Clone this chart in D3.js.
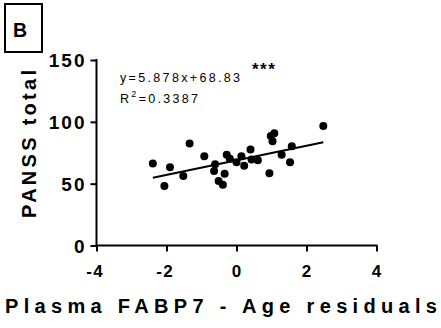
<!DOCTYPE html>
<html>
<head>
<meta charset="utf-8">
<script src="https://cdn.jsdelivr.net/npm/d3@7"></script>
<style>
  body { margin: 0; background: #fff; }
</style>
</head>
<body>
<svg id="chart" width="441" height="328"></svg>
<script>
const residuals = [-2.39, -2.06, -1.9, -1.52, -1.34, -0.92, -0.61, -0.64, -0.51, -0.39, -0.34, -0.28, -0.19, 0.0, 0.14, 0.22, 0.4, 0.43, 0.61, 0.94, 0.98, 1.08, 1.03, 1.29, 1.53, 1.58, 2.48];
const panss = [66.3, 48.1, 63.3, 56.3, 82.5, 72.2, 65.7, 60.3, 52.2, 49.2, 58.1, 73.3, 70.1, 67.3, 72.2, 64.4, 77.6, 69.5, 68.9, 58.4, 88.5, 90.7, 84.4, 73.3, 67.3, 80.3, 96.6];
const slope = 5.878;
const intercept = 68.83;
const rSquared = '0.3387';
const xTicks = [-4, -2, 0, 2, 4];
const yTicks = [0, 50, 100, 150];

const FONT = '"Liberation Sans", Arial, sans-serif';
const svg = d3.select('#chart');
const xScale = d3.scaleLinear().domain([-4, 4]).range([96.5, 376.5]);
const yScale = d3.scaleLinear().domain([0, 150]).range([245.5, 60]);

// spread letters so the string covers a given width
function fit(sel, width) {
  const node = sel.node();
  const n = sel.text().length;
  const natural = node.getComputedTextLength();
  sel.style('letter-spacing', ((width - natural) / (n - 1)) + 'px');
}

// panel letter
svg.append('rect').attr('x', 5).attr('y', 4).attr('width', 37).attr('height', 48)
  .attr('fill', 'none').attr('stroke', '#000').attr('stroke-width', 2);
svg.append('text').attr('x', 13).attr('y', 37).style('font-family', FONT)
  .style('font-size', '19.5px').style('font-weight', 'bold').text('B');

// axis lines and ticks, labels drawn separately
const xAxis = d3.axisBottom(xScale).tickValues(xTicks).tickSize(6).tickFormat('');
const yAxis = d3.axisLeft(yScale).tickValues(yTicks).tickSize(6).tickFormat('');

const gx = svg.append('g').attr('transform', `translate(0,${yScale(0)})`).call(xAxis);
const gy = svg.append('g').attr('transform', `translate(${xScale(-4)},0)`).call(yAxis);

[gx, gy].forEach(g => {
  g.select('.domain').attr('stroke', '#000').attr('stroke-width', 2);
  g.selectAll('.tick line').attr('stroke', '#000').attr('stroke-width', 2);
  g.selectAll('.tick text').remove();
});
gx.select('.domain').attr('d', `M${xScale(-4) - 1},0H${xScale(4) + 1}`);
gy.select('.domain').attr('d', `M0,${yScale(0) + 1}V${yScale(150) - 1}`);

svg.append('g').selectAll('text').data(xTicks).join('text')
  .attr('y', 277).style('font-family', FONT).style('font-size', '17px')
  .style('font-weight', 'bold').style('letter-spacing', '1.5px')
  .text(d => String(d))
  .each(function (d) {
    const w = this.getComputedTextLength() - 1.5;
    d3.select(this).attr('x', xScale(d) - w / 2 - (d < 0 ? 2 : 0));
  });

svg.append('g').selectAll('text').data(yTicks).join('text')
  .attr('y', d => yScale(d) + 7).style('font-family', FONT).style('font-size', '19px')
  .style('font-weight', 'bold').style('letter-spacing', '2px')
  .text(d => String(d))
  .each(function (d) {
    const w = this.getComputedTextLength() - 2;
    d3.select(this).attr('x', xScale(-4) - 12 - w);
  });

// regression line over the data range
const xr = d3.extent(residuals);
svg.append('line')
  .attr('x1', xScale(xr[0])).attr('y1', yScale(slope * xr[0] + intercept))
  .attr('x2', xScale(xr[1])).attr('y2', yScale(slope * xr[1] + intercept))
  .attr('stroke', '#000').attr('stroke-width', 2);

svg.append('g').selectAll('circle')
  .data(residuals.map((d, i) => [d, panss[i]]))
  .join('circle')
  .attr('cx', d => xScale(d[0])).attr('cy', d => yScale(d[1]))
  .attr('r', 4).attr('fill', '#000');

// annotations
const eq = svg.append('text').attr('x', 120).attr('y', 82).style('font-family', FONT)
  .style('font-size', '12.5px').text(`y=${slope}x+${intercept}`);
fit(eq, 120);
const r2 = svg.append('text').attr('x', 120).attr('y', 103).style('font-family', FONT)
  .style('font-size', '12.5px').style('letter-spacing', '2.3px');
r2.append('tspan').text('R');
r2.append('tspan').attr('dy', -6).style('font-size', '9px').text('2');
r2.append('tspan').attr('dy', 6).text('=' + rSquared);
svg.append('text').attr('x', 252).attr('y', 75).style('font-family', FONT)
  .style('font-size', '17px').style('font-weight', 'bold').style('letter-spacing', '1.5px').text('***');

// axis titles
const yt = svg.append('text').attr('transform', 'translate(35.5,218) rotate(-90)')
  .style('font-family', FONT).style('font-size', '20px').style('font-weight', 'bold').text('PANSS total');
fit(yt, 148);
const xt = svg.append('text').attr('x', 5).attr('y', 313)
  .style('font-family', FONT).style('font-size', '20px').style('font-weight', 'bold').text('Plasma FABP7 - Age residuals');
fit(xt, 432);
</script>
</body>
</html>
